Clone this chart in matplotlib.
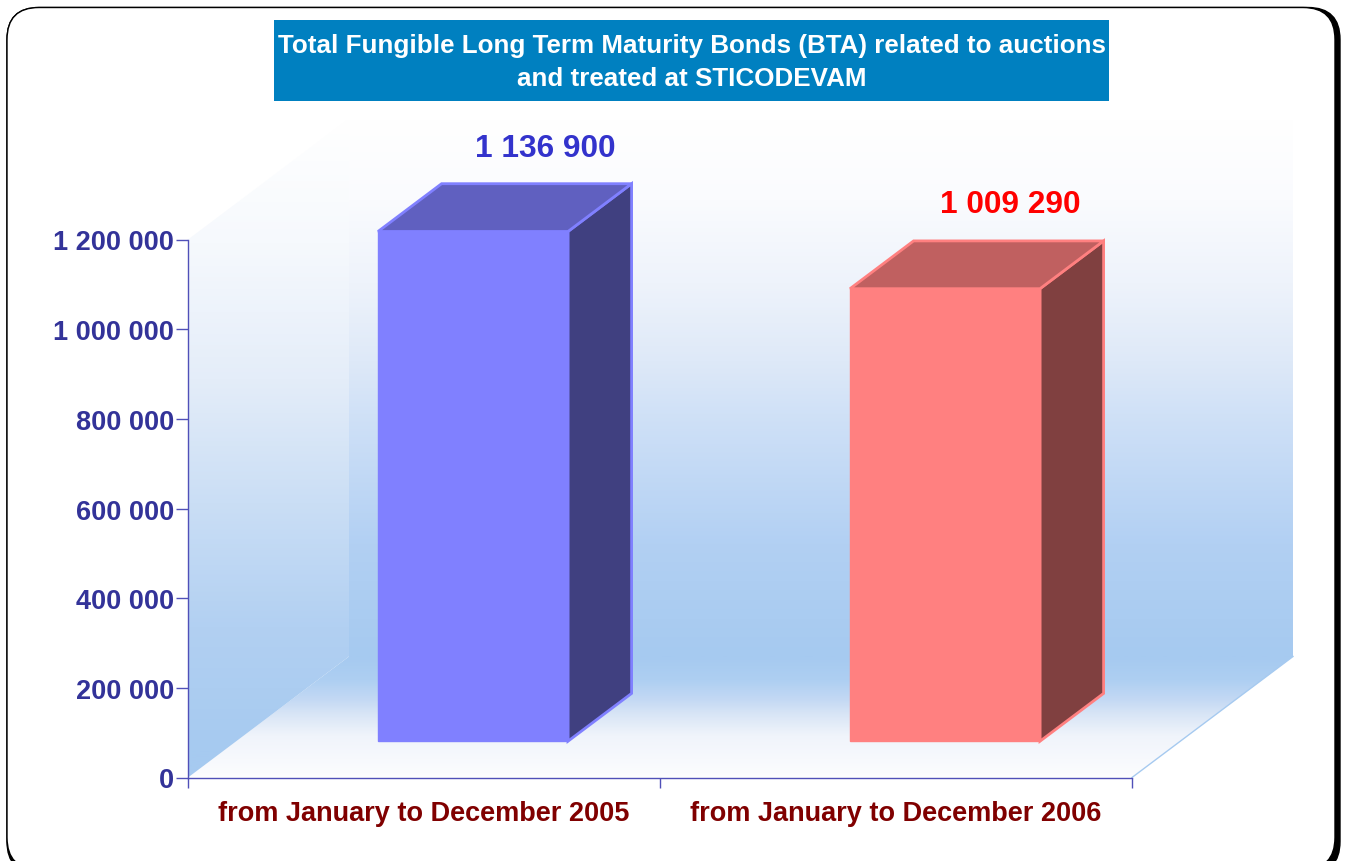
import matplotlib
matplotlib.use("Agg")
import matplotlib.pyplot as plt
import numpy as np
from matplotlib.colors import LinearSegmentedColormap
from matplotlib.patches import FancyBboxPatch, Polygon

# -------------------------
# Data
# -------------------------

categories = [
    "from January to December 2005",
    "from January to December 2006"
]
values = [1136900, 1009290]
value_labels = ["1 136 900", "1 009 290"]
y_ticks = [0, 200000, 400000, 600000, 800000, 1000000, 1200000]
y_tick_labels = ["0", "200 000", "400 000", "600 000", "800 000", "1 000 000", "1 200 000"]
title = "Total Fungible Long Term Maturity Bonds (BTA) related to auctions\nand treated at STICODEVAM"

# -------------------------
# Styles
# -------------------------

face_colors = ["#8080FF", "#FF8080"]
side_colors = ["#404080", "#804040"]
top_colors = ["#6060C0", "#C06060"]
label_colors = ["#3333CC", "#FF0000"]
label_offsets = [(72, 52), (65, 53)]
FONT = "Liberation Sans"
WALL = "#A6CAF0"
AXIS = "#5050B8"

W, H = 1345, 862
fig = plt.figure(figsize=(W / 100, H / 100), dpi=100, facecolor="white")

# -------------------------
# Frame and title, in pixels
# -------------------------

bg = fig.add_axes([0, 0, 1, 1], zorder=0)
bg.set_xlim(0, W)
bg.set_ylim(H, 0)
bg.axis("off")

bg.add_patch(FancyBboxPatch((7, 8.5), 1333, 866, boxstyle="round,pad=0,rounding_size=32",
                            fc="black", ec="black", lw=1))
bg.add_patch(FancyBboxPatch((7, 8.5), 1328, 862, boxstyle="round,pad=0,rounding_size=32",
                            fc="white", ec="black", lw=1))

bg.add_patch(plt.Rectangle((274, 21), 835, 81, fc="#0080C0", ec="none"))
bg.text(691.5, 62.5, title, color="white", fontsize=18.75, fontweight="bold", family=FONT,
        ha="center", va="center", linespacing=1.46)

# -------------------------
# Chart axes
# -------------------------

x0, x1, y_top, y_bot = 188, 1132, 240.5, 778.5
ax = fig.add_axes([x0 / W, 1 - y_bot / H, (x1 - x0) / W, (y_bot - y_top) / H], zorder=1)
ax.patch.set_visible(False)
ax.set_xlim(-0.5, 1.5)
ax.set_ylim(0, 1200000)

# depth of the 3D box, in data units
depth_x = 161 / 472
depth_y = 121 / 538 * 1200000
xa, xb = ax.get_xlim()
top = 1200000


def shade(corners, stops, y_low, y_high, z):
    # vertical gradient clipped to a polygon
    poly = Polygon(corners, transform=ax.transData, visible=False)
    ax.add_patch(poly)
    cmap = LinearSegmentedColormap.from_list("g", stops)
    grad = np.linspace(0, 1, 256).reshape(-1, 1)
    im = ax.imshow(grad, cmap=cmap, origin="upper", aspect="auto", zorder=z,
                   extent=[xa, xb + depth_x, y_low, y_high])
    im.set_clip_path(poly)
    im.set_clip_box(fig.bbox)


# back wall
shade([(xa + depth_x, depth_y), (xb + depth_x, depth_y),
       (xb + depth_x, top + depth_y), (xa + depth_x, top + depth_y)],
      [(0, "#FFFFFF"), (0.15, "#FAFBFE"), (0.305, "#EEF3FB"), (0.45, "#DEE9F8"),
       (0.548, "#D0E1F7"), (0.79, "#B2D0F3"), (1, WALL)],
      depth_y, top + depth_y, 1)

# floor
shade([(xa, 0), (xb, 0), (xb + depth_x, depth_y), (xa + depth_x, depth_y)],
      [(0, WALL), (0.19, "#AECFF2"), (0.355, "#C4D9F4"), (0.47, "#D8E5F6"),
       (0.65, "#F0F4FB"), (0.96, "#FBFCFE"), (1, "#FFFFFF")],
      0, depth_y, 1)

# left wall
shade([(xa, 0), (xa + depth_x, depth_y), (xa + depth_x, top + depth_y), (xa, top)],
      [(0, "#FFFFFF"), (0.187, "#F6F9FD"), (0.395, "#E4EDF9"), (0.584, "#CADEF5"),
       (0.772, "#B2D0F2"), (0.96, WALL), (1, WALL)],
      0, top + depth_y, 2)

ax.plot([xb, xb + depth_x], [0, depth_y], color=WALL, lw=1, clip_on=False, zorder=3)

# -------------------------
# Bars
# -------------------------

bar_width = 190 / 472
front = 0.3
back_d = 0.695

for i, value in enumerate(values):
    left_x = i + 49 / 472 - bar_width / 2
    right_x = left_x + bar_width
    fx = front * depth_x
    fy = front * depth_y
    bx = back_d * depth_x
    by = back_d * depth_y
    edge = face_colors[i]
    ax.add_patch(Polygon([(right_x, fy), (right_x - fx + bx, by), (right_x - fx + bx, value + by),
                          (right_x, value + fy)], fc=side_colors[i], ec=edge, lw=2,
                         clip_on=False, zorder=4))
    ax.add_patch(Polygon([(left_x, value + fy), (right_x, value + fy), (right_x - fx + bx, value + by),
                          (left_x - fx + bx, value + by)], fc=top_colors[i], ec=edge, lw=2,
                         clip_on=False, zorder=4))
    ax.add_patch(Polygon([(left_x, fy), (right_x, fy), (right_x, value + fy), (left_x, value + fy)],
                         fc=face_colors[i], ec=edge, lw=1, clip_on=False, zorder=5))
    ax.annotate(value_labels[i], xy=((left_x + right_x) / 2, value + by), xycoords="data",
                xytext=(label_offsets[i][0] * 0.72, label_offsets[i][1] * 0.72 - 11.5),
                textcoords="offset points", color=label_colors[i], fontsize=22.8, fontweight="bold",
                family=FONT, ha="center", va="center", annotation_clip=False, zorder=6)

# -------------------------
# Axis styling
# -------------------------

for side in ["top", "right"]:
    ax.spines[side].set_visible(False)
for side in ["left", "bottom"]:
    ax.spines[side].set_color(AXIS)
    ax.spines[side].set_linewidth(1)
    ax.spines[side].set_zorder(7)

ax.set_yticks(y_ticks, y_tick_labels)
ax.tick_params(axis="y", direction="out", length=9, width=1, color=AXIS, pad=1,
               labelcolor="#333399", labelsize=19.5)
ax.set_xticks([-0.5, 0.5, 1.5], ["", "", ""])
ax.tick_params(axis="x", which="major", direction="out", length=7.5, width=1, color=AXIS)
ax.set_xticks([0, 1], categories, minor=True)
ax.tick_params(axis="x", which="minor", length=0, pad=16, labelcolor="#800000", labelsize=19.55)
for lab in ax.get_yticklabels() + ax.get_xticklabels(minor=True):
    lab.set_fontfamily(FONT)
    lab.set_fontweight("bold")

ax.set_xlim(xa, xb)
ax.set_ylim(0, top)

fig.savefig("out.png", dpi=100)
plt.close()
